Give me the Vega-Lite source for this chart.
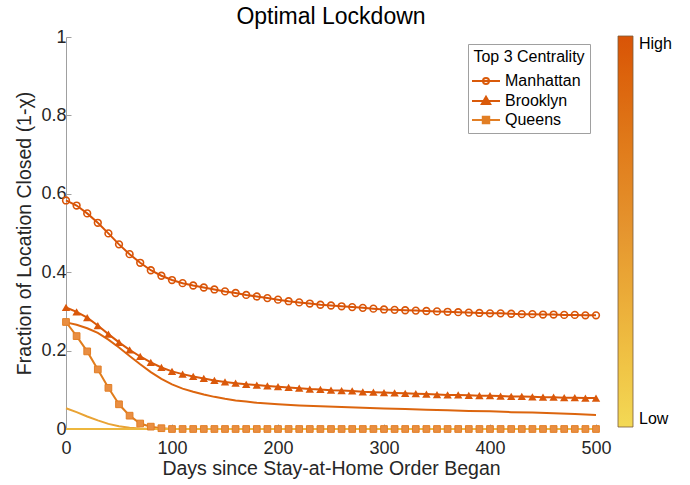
{
  "$schema": "https://vega.github.io/schema/vega-lite/v6.json",
  "width": 530,
  "height": 392,
  "autosize": {"type": "none"},
  "padding": {"left": 66, "top": 37, "right": 94, "bottom": 56},
  "background": "white",
  "title": {"text": "Optimal Lockdown", "fontSize": 23, "font": "Liberation Sans", "fontWeight": "normal", "color": "#000000", "frame": "group", "anchor": "middle", "baseline": "alphabetic", "offset": -19},
  "config": {
    "font": "Liberation Sans",
    "view": {"stroke": null},
    "axis": {"domainColor": "#a0a0a0", "tickColor": "#a0a0a0", "labelColor": "#262626", "titleColor": "#262626", "labelFontSize": 18, "titleFontSize": 19.5, "titleFontWeight": "normal", "grid": false, "tickSize": -5, "domainWidth": 1, "tickWidth": 1, "labelFlush": false}
  },
  "datasets": {
    "d": [
      {"s": "Manhattan", "c": 1, "d": 0, "v": 0.583}, {"s": "Manhattan", "c": 1, "d": 10, "v": 0.570}, {"s": "Manhattan", "c": 1, "d": 20, "v": 0.550}, {"s": "Manhattan", "c": 1, "d": 30, "v": 0.526}, {"s": "Manhattan", "c": 1, "d": 40, "v": 0.499}, {"s": "Manhattan", "c": 1, "d": 50, "v": 0.471}, {"s": "Manhattan", "c": 1, "d": 60, "v": 0.446}, {"s": "Manhattan", "c": 1, "d": 70, "v": 0.424}, {"s": "Manhattan", "c": 1, "d": 80, "v": 0.405}, {"s": "Manhattan", "c": 1, "d": 90, "v": 0.391}, {"s": "Manhattan", "c": 1, "d": 100, "v": 0.380}, {"s": "Manhattan", "c": 1, "d": 110, "v": 0.372}, {"s": "Manhattan", "c": 1, "d": 120, "v": 0.366}, {"s": "Manhattan", "c": 1, "d": 130, "v": 0.361}, {"s": "Manhattan", "c": 1, "d": 140, "v": 0.356}, {"s": "Manhattan", "c": 1, "d": 150, "v": 0.351}, {"s": "Manhattan", "c": 1, "d": 160, "v": 0.347}, {"s": "Manhattan", "c": 1, "d": 170, "v": 0.342}, {"s": "Manhattan", "c": 1, "d": 180, "v": 0.338}, {"s": "Manhattan", "c": 1, "d": 190, "v": 0.334}, {"s": "Manhattan", "c": 1, "d": 200, "v": 0.330}, {"s": "Manhattan", "c": 1, "d": 210, "v": 0.326}, {"s": "Manhattan", "c": 1, "d": 220, "v": 0.323}, {"s": "Manhattan", "c": 1, "d": 230, "v": 0.320}, {"s": "Manhattan", "c": 1, "d": 240, "v": 0.317}, {"s": "Manhattan", "c": 1, "d": 250, "v": 0.315}, {"s": "Manhattan", "c": 1, "d": 260, "v": 0.313}, {"s": "Manhattan", "c": 1, "d": 270, "v": 0.311}, {"s": "Manhattan", "c": 1, "d": 280, "v": 0.309}, {"s": "Manhattan", "c": 1, "d": 290, "v": 0.307}, {"s": "Manhattan", "c": 1, "d": 300, "v": 0.305}, {"s": "Manhattan", "c": 1, "d": 310, "v": 0.304}, {"s": "Manhattan", "c": 1, "d": 320, "v": 0.303}, {"s": "Manhattan", "c": 1, "d": 330, "v": 0.302}, {"s": "Manhattan", "c": 1, "d": 340, "v": 0.301}, {"s": "Manhattan", "c": 1, "d": 350, "v": 0.300}, {"s": "Manhattan", "c": 1, "d": 360, "v": 0.299}, {"s": "Manhattan", "c": 1, "d": 370, "v": 0.298}, {"s": "Manhattan", "c": 1, "d": 380, "v": 0.297}, {"s": "Manhattan", "c": 1, "d": 390, "v": 0.296}, {"s": "Manhattan", "c": 1, "d": 400, "v": 0.295}, {"s": "Manhattan", "c": 1, "d": 410, "v": 0.295}, {"s": "Manhattan", "c": 1, "d": 420, "v": 0.294}, {"s": "Manhattan", "c": 1, "d": 430, "v": 0.293}, {"s": "Manhattan", "c": 1, "d": 440, "v": 0.293}, {"s": "Manhattan", "c": 1, "d": 450, "v": 0.292}, {"s": "Manhattan", "c": 1, "d": 460, "v": 0.292}, {"s": "Manhattan", "c": 1, "d": 470, "v": 0.291}, {"s": "Manhattan", "c": 1, "d": 480, "v": 0.291}, {"s": "Manhattan", "c": 1, "d": 490, "v": 0.290}, {"s": "Manhattan", "c": 1, "d": 500, "v": 0.290},
      {"s": "Brooklyn", "c": 0.97, "d": 0, "v": 0.310}, {"s": "Brooklyn", "c": 0.97, "d": 10, "v": 0.299}, {"s": "Brooklyn", "c": 0.97, "d": 20, "v": 0.284}, {"s": "Brooklyn", "c": 0.97, "d": 30, "v": 0.264}, {"s": "Brooklyn", "c": 0.97, "d": 40, "v": 0.242}, {"s": "Brooklyn", "c": 0.97, "d": 50, "v": 0.221}, {"s": "Brooklyn", "c": 0.97, "d": 60, "v": 0.202}, {"s": "Brooklyn", "c": 0.97, "d": 70, "v": 0.185}, {"s": "Brooklyn", "c": 0.97, "d": 80, "v": 0.170}, {"s": "Brooklyn", "c": 0.97, "d": 90, "v": 0.157}, {"s": "Brooklyn", "c": 0.97, "d": 100, "v": 0.147}, {"s": "Brooklyn", "c": 0.97, "d": 110, "v": 0.140}, {"s": "Brooklyn", "c": 0.97, "d": 120, "v": 0.134}, {"s": "Brooklyn", "c": 0.97, "d": 130, "v": 0.129}, {"s": "Brooklyn", "c": 0.97, "d": 140, "v": 0.124}, {"s": "Brooklyn", "c": 0.97, "d": 150, "v": 0.120}, {"s": "Brooklyn", "c": 0.97, "d": 160, "v": 0.117}, {"s": "Brooklyn", "c": 0.97, "d": 170, "v": 0.114}, {"s": "Brooklyn", "c": 0.97, "d": 180, "v": 0.112}, {"s": "Brooklyn", "c": 0.97, "d": 190, "v": 0.110}, {"s": "Brooklyn", "c": 0.97, "d": 200, "v": 0.108}, {"s": "Brooklyn", "c": 0.97, "d": 210, "v": 0.106}, {"s": "Brooklyn", "c": 0.97, "d": 220, "v": 0.104}, {"s": "Brooklyn", "c": 0.97, "d": 230, "v": 0.102}, {"s": "Brooklyn", "c": 0.97, "d": 240, "v": 0.101}, {"s": "Brooklyn", "c": 0.97, "d": 250, "v": 0.099}, {"s": "Brooklyn", "c": 0.97, "d": 260, "v": 0.098}, {"s": "Brooklyn", "c": 0.97, "d": 270, "v": 0.097}, {"s": "Brooklyn", "c": 0.97, "d": 280, "v": 0.095}, {"s": "Brooklyn", "c": 0.97, "d": 290, "v": 0.094}, {"s": "Brooklyn", "c": 0.97, "d": 300, "v": 0.093}, {"s": "Brooklyn", "c": 0.97, "d": 310, "v": 0.092}, {"s": "Brooklyn", "c": 0.97, "d": 320, "v": 0.091}, {"s": "Brooklyn", "c": 0.97, "d": 330, "v": 0.090}, {"s": "Brooklyn", "c": 0.97, "d": 340, "v": 0.089}, {"s": "Brooklyn", "c": 0.97, "d": 350, "v": 0.088}, {"s": "Brooklyn", "c": 0.97, "d": 360, "v": 0.087}, {"s": "Brooklyn", "c": 0.97, "d": 370, "v": 0.087}, {"s": "Brooklyn", "c": 0.97, "d": 380, "v": 0.086}, {"s": "Brooklyn", "c": 0.97, "d": 390, "v": 0.085}, {"s": "Brooklyn", "c": 0.97, "d": 400, "v": 0.085}, {"s": "Brooklyn", "c": 0.97, "d": 410, "v": 0.084}, {"s": "Brooklyn", "c": 0.97, "d": 420, "v": 0.083}, {"s": "Brooklyn", "c": 0.97, "d": 430, "v": 0.083}, {"s": "Brooklyn", "c": 0.97, "d": 440, "v": 0.082}, {"s": "Brooklyn", "c": 0.97, "d": 450, "v": 0.081}, {"s": "Brooklyn", "c": 0.97, "d": 460, "v": 0.081}, {"s": "Brooklyn", "c": 0.97, "d": 470, "v": 0.080}, {"s": "Brooklyn", "c": 0.97, "d": 480, "v": 0.080}, {"s": "Brooklyn", "c": 0.97, "d": 490, "v": 0.079}, {"s": "Brooklyn", "c": 0.97, "d": 500, "v": 0.079},
      {"s": "Queens", "c": 0.7, "d": 0, "v": 0.273}, {"s": "Queens", "c": 0.7, "d": 10, "v": 0.237}, {"s": "Queens", "c": 0.7, "d": 20, "v": 0.198}, {"s": "Queens", "c": 0.7, "d": 30, "v": 0.152}, {"s": "Queens", "c": 0.7, "d": 40, "v": 0.105}, {"s": "Queens", "c": 0.7, "d": 50, "v": 0.063}, {"s": "Queens", "c": 0.7, "d": 60, "v": 0.034}, {"s": "Queens", "c": 0.7, "d": 70, "v": 0.014}, {"s": "Queens", "c": 0.7, "d": 80, "v": 0.006}, {"s": "Queens", "c": 0.7, "d": 90, "v": 0.002}, {"s": "Queens", "c": 0.7, "d": 100, "v": 0}, {"s": "Queens", "c": 0.7, "d": 110, "v": 0}, {"s": "Queens", "c": 0.7, "d": 120, "v": 0}, {"s": "Queens", "c": 0.7, "d": 130, "v": 0}, {"s": "Queens", "c": 0.7, "d": 140, "v": 0}, {"s": "Queens", "c": 0.7, "d": 150, "v": 0}, {"s": "Queens", "c": 0.7, "d": 160, "v": 0}, {"s": "Queens", "c": 0.7, "d": 170, "v": 0}, {"s": "Queens", "c": 0.7, "d": 180, "v": 0}, {"s": "Queens", "c": 0.7, "d": 190, "v": 0}, {"s": "Queens", "c": 0.7, "d": 200, "v": 0}, {"s": "Queens", "c": 0.7, "d": 210, "v": 0}, {"s": "Queens", "c": 0.7, "d": 220, "v": 0}, {"s": "Queens", "c": 0.7, "d": 230, "v": 0}, {"s": "Queens", "c": 0.7, "d": 240, "v": 0}, {"s": "Queens", "c": 0.7, "d": 250, "v": 0}, {"s": "Queens", "c": 0.7, "d": 260, "v": 0}, {"s": "Queens", "c": 0.7, "d": 270, "v": 0}, {"s": "Queens", "c": 0.7, "d": 280, "v": 0}, {"s": "Queens", "c": 0.7, "d": 290, "v": 0}, {"s": "Queens", "c": 0.7, "d": 300, "v": 0}, {"s": "Queens", "c": 0.7, "d": 310, "v": 0}, {"s": "Queens", "c": 0.7, "d": 320, "v": 0}, {"s": "Queens", "c": 0.7, "d": 330, "v": 0}, {"s": "Queens", "c": 0.7, "d": 340, "v": 0}, {"s": "Queens", "c": 0.7, "d": 350, "v": 0}, {"s": "Queens", "c": 0.7, "d": 360, "v": 0}, {"s": "Queens", "c": 0.7, "d": 370, "v": 0}, {"s": "Queens", "c": 0.7, "d": 380, "v": 0}, {"s": "Queens", "c": 0.7, "d": 390, "v": 0}, {"s": "Queens", "c": 0.7, "d": 400, "v": 0}, {"s": "Queens", "c": 0.7, "d": 410, "v": 0}, {"s": "Queens", "c": 0.7, "d": 420, "v": 0}, {"s": "Queens", "c": 0.7, "d": 430, "v": 0}, {"s": "Queens", "c": 0.7, "d": 440, "v": 0}, {"s": "Queens", "c": 0.7, "d": 450, "v": 0}, {"s": "Queens", "c": 0.7, "d": 460, "v": 0}, {"s": "Queens", "c": 0.7, "d": 470, "v": 0}, {"s": "Queens", "c": 0.7, "d": 480, "v": 0}, {"s": "Queens", "c": 0.7, "d": 490, "v": 0}, {"s": "Queens", "c": 0.7, "d": 500, "v": 0},
      {"s": "Other A", "c": 0.88, "d": 0, "v": 0.272}, {"s": "Other A", "c": 0.88, "d": 10, "v": 0.266}, {"s": "Other A", "c": 0.88, "d": 20, "v": 0.257}, {"s": "Other A", "c": 0.88, "d": 30, "v": 0.245}, {"s": "Other A", "c": 0.88, "d": 40, "v": 0.228}, {"s": "Other A", "c": 0.88, "d": 50, "v": 0.208}, {"s": "Other A", "c": 0.88, "d": 60, "v": 0.186}, {"s": "Other A", "c": 0.88, "d": 70, "v": 0.165}, {"s": "Other A", "c": 0.88, "d": 80, "v": 0.145}, {"s": "Other A", "c": 0.88, "d": 90, "v": 0.128}, {"s": "Other A", "c": 0.88, "d": 100, "v": 0.114}, {"s": "Other A", "c": 0.88, "d": 110, "v": 0.103}, {"s": "Other A", "c": 0.88, "d": 120, "v": 0.095}, {"s": "Other A", "c": 0.88, "d": 130, "v": 0.088}, {"s": "Other A", "c": 0.88, "d": 140, "v": 0.082}, {"s": "Other A", "c": 0.88, "d": 150, "v": 0.077}, {"s": "Other A", "c": 0.88, "d": 160, "v": 0.073}, {"s": "Other A", "c": 0.88, "d": 170, "v": 0.070}, {"s": "Other A", "c": 0.88, "d": 180, "v": 0.067}, {"s": "Other A", "c": 0.88, "d": 190, "v": 0.065}, {"s": "Other A", "c": 0.88, "d": 200, "v": 0.063}, {"s": "Other A", "c": 0.88, "d": 220, "v": 0.060}, {"s": "Other A", "c": 0.88, "d": 240, "v": 0.058}, {"s": "Other A", "c": 0.88, "d": 260, "v": 0.056}, {"s": "Other A", "c": 0.88, "d": 280, "v": 0.054}, {"s": "Other A", "c": 0.88, "d": 300, "v": 0.052}, {"s": "Other A", "c": 0.88, "d": 320, "v": 0.051}, {"s": "Other A", "c": 0.88, "d": 340, "v": 0.049}, {"s": "Other A", "c": 0.88, "d": 360, "v": 0.048}, {"s": "Other A", "c": 0.88, "d": 380, "v": 0.046}, {"s": "Other A", "c": 0.88, "d": 400, "v": 0.045}, {"s": "Other A", "c": 0.88, "d": 420, "v": 0.043}, {"s": "Other A", "c": 0.88, "d": 440, "v": 0.042}, {"s": "Other A", "c": 0.88, "d": 460, "v": 0.040}, {"s": "Other A", "c": 0.88, "d": 480, "v": 0.038}, {"s": "Other A", "c": 0.88, "d": 500, "v": 0.036},
      {"s": "Other B", "c": 0.4, "d": 0, "v": 0.053}, {"s": "Other B", "c": 0.4, "d": 10, "v": 0.043}, {"s": "Other B", "c": 0.4, "d": 20, "v": 0.032}, {"s": "Other B", "c": 0.4, "d": 30, "v": 0.022}, {"s": "Other B", "c": 0.4, "d": 40, "v": 0.013}, {"s": "Other B", "c": 0.4, "d": 50, "v": 0.007}, {"s": "Other B", "c": 0.4, "d": 60, "v": 0.003}, {"s": "Other B", "c": 0.4, "d": 70, "v": 0.001}, {"s": "Other B", "c": 0.4, "d": 80, "v": 0}, {"s": "Other B", "c": 0.4, "d": 100, "v": 0}, {"s": "Other B", "c": 0.4, "d": 500, "v": 0},
      {"s": "Other C", "c": 0.25, "d": 0, "v": 0}, {"s": "Other C", "c": 0.25, "d": 500, "v": 0}
    ]
  },
  "data": {"name": "d"},
  "encoding": {
    "x": {"field": "d", "type": "quantitative", "scale": {"domain": [0, 500], "nice": false}, "axis": {"values": [0, 100, 200, 300, 400, 500], "format": "d", "title": "Days since Stay-at-Home Order Began", "labelPadding": 15, "titlePadding": 2}},
    "y": {"field": "v", "type": "quantitative", "scale": {"domain": [0, 1], "nice": false}, "axis": {"values": [0, 0.2, 0.4, 0.6, 0.8, 1], "format": "~g", "title": "Fraction of Location Closed (1-χ)", "labelPadding": 5, "titlePadding": 6}}
  },
  "layer": [
    {
      "mark": {"type": "line", "strokeWidth": 2},
      "encoding": {
        "color": {"field": "c", "type": "quantitative", "scale": {"domain": [0, 0.5, 1], "range": ["#F3D955", "#E5952F", "#D95407"]},
          "legend": {"orient": "none", "legendX": 552, "legendY": -1, "direction": "vertical", "gradientLength": 391, "gradientThickness": 15, "title": null, "values": [0, 1], "labelExpr": "datum.value > 0.5 ? 'High' : 'Low'", "labelFontSize": 16, "labelColor": "#000000", "labelOffset": 6, "gradientStrokeColor": "#7a5a3a", "gradientStrokeWidth": 0.8}},
        "detail": {"field": "s", "type": "nominal"}
      }
    },
    {
      "transform": [{"filter": "datum.s === 'Queens'"}],
      "mark": {"type": "point", "shape": "square", "filled": true, "size": 45, "fill": "#E98E42", "stroke": "#E27E24", "strokeWidth": 1, "opacity": 1}
    },
    {
      "transform": [{"filter": "datum.s === 'Brooklyn'"}],
      "mark": {"type": "point", "shape": "triangle-up", "filled": true, "size": 70, "color": "#DA580A", "opacity": 1}
    },
    {
      "transform": [{"filter": "datum.s === 'Manhattan'"}],
      "mark": {"type": "point", "shape": "circle", "filled": false, "size": 45, "stroke": "#D95407", "strokeWidth": 1.6, "opacity": 1}
    },
    {
      "transform": [{"filter": "datum.d < 0"}],
      "mark": {"type": "point", "opacity": 1, "filled": false, "strokeWidth": 2},
      "encoding": {
        "shape": {"field": "s", "type": "nominal",
          "scale": {"domain": ["Manhattan", "Brooklyn", "Queens"], "range": ["M-2,0H2M0.43,0A0.43,0.43,0,1,1,-0.43,0A0.43,0.43,0,1,1,0.43,0Z", "M-2,0H2M0,-0.6L0.6,0.43L-0.6,0.43ZM0,-0.25L0.3,0.27L-0.3,0.27Z", "M-2,0H2M-0.46,-0.46H0.46V0.46H-0.46ZM-0.2,-0.2H0.2V0.2H-0.2Z"]},
          "legend": {"orient": "none", "legendX": 402, "legendY": 7, "title": "Top 3 Centrality", "titleFontSize": 16, "titleFontWeight": "normal", "titleColor": "#000000", "titleAnchor": "middle", "titlePadding": 8, "labelFontSize": 16, "labelColor": "#000000", "strokeColor": "#a0a0a0", "fillColor": "#ffffff", "padding": 5, "symbolSize": 196, "symbolStrokeWidth": 2, "labelOffset": 11, "rowPadding": 3}
        },
        "color": {"field": "s", "type": "nominal",
          "scale": {"domain": ["Manhattan", "Brooklyn", "Queens"], "range": ["#D95A0A", "#D95A0A", "#E27E24"]},
          "legend": {"orient": "none", "legendX": 402, "legendY": 7, "title": "Top 3 Centrality", "titleFontSize": 16, "titleFontWeight": "normal", "titleColor": "#000000", "titleAnchor": "middle", "titlePadding": 8, "labelFontSize": 16, "labelColor": "#000000", "strokeColor": "#a0a0a0", "fillColor": "#ffffff", "padding": 5, "symbolSize": 196, "symbolStrokeWidth": 2, "labelOffset": 11, "rowPadding": 3}
        }
      }
    }
  ],
  "resolve": {"scale": {"color": "independent", "shape": "independent"}}
}
